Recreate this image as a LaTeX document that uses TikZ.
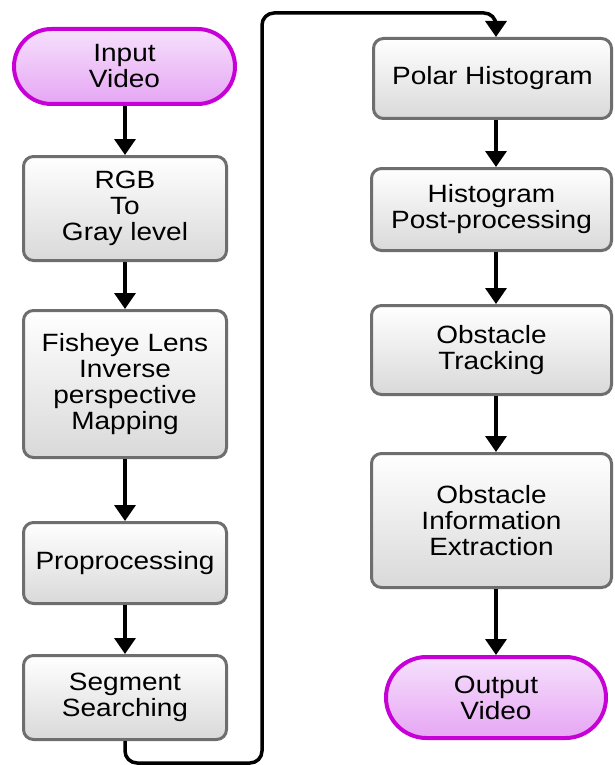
\documentclass[tikz,border=0pt]{standalone}
\usepackage{fontspec}
\setmainfont{Liberation Sans}[FakeStretch=1.12]
\usetikzlibrary{arrows.meta,shapes.misc}
\definecolor{boxgray}{HTML}{6E6E6E}
\definecolor{termmag}{HTML}{C800D8}
\definecolor{termtop}{HTML}{F6E0FC}
\definecolor{termbot}{HTML}{E6A6F4}
\definecolor{boxbot}{HTML}{D9D9D9}
\newcommand\diagfont{\fontsize{25}{26}\selectfont}
\begin{document}
\begin{tikzpicture}[x=1pt,y=-1pt,
 proc/.style={draw=boxgray, line width=3pt, rounded corners=10pt, top color=white, bottom color=boxbot, align=center, font=\diagfont, inner sep=0pt},
 term/.style={rounded rectangle, draw=termmag, line width=4pt, top color=termtop, bottom color=termbot, align=center, font=\diagfont, inner sep=0pt},
 arr/.style={line width=3.5pt, -{Triangle[width=21pt,length=16pt]}}]
\useasboundingbox (0,0) rectangle (614,765);
\fill[white] (0,0) rectangle (614,765);
% left column
\node[term, minimum width=221pt, minimum height=75pt] (in) at (124.5,66.5) {Input\\Video};
\node[proc, minimum width=203pt, minimum height=104pt] (rgb) at (125,208.5) {RGB\\To\\Gray level};
\node[proc, minimum width=203pt, minimum height=147pt] (fish) at (125,384) {Fisheye Lens\\Inverse\\perspective\\Mapping};
\node[proc, minimum width=203pt, minimum height=81pt] (pre) at (125,563) {Proprocessing};
\node[proc, minimum width=203pt, minimum height=84pt] (seg) at (125,697.5) {Segment\\Searching};
% right column
\node[proc, minimum width=238pt, minimum height=80pt] (pol) at (492.5,78.5) {Polar Histogram};
\node[proc, minimum width=240pt, minimum height=82pt] (post) at (491.5,209.5) {Histogram\\Post-processing};
\node[proc, minimum width=240pt, minimum height=89pt] (trk) at (491.5,350) {Obstacle\\Tracking};
\node[proc, minimum width=240pt, minimum height=134pt] (ext) at (491.5,520.5) {Obstacle\\Information\\Extraction};
\node[term, minimum width=220pt, minimum height=81pt] (out) at (496,697.5) {Output\\Video};
% arrows left
\draw[arr] (in.south -| rgb.north) -- (rgb.north);
\draw[arr] (rgb) -- (fish);
\draw[arr] (fish) -- (pre);
\draw[arr] (pre) -- (seg);
% arrows right
\draw[arr] (pol.south -| out.center) -- (post.north -| out.center);
\draw[arr] (post.south -| out.center) -- (trk.north -| out.center);
\draw[arr] (trk.south -| out.center) -- (ext.north -| out.center);
\draw[arr] (ext.south -| out.center) -- (out.north);
% long connector
\coordinate (c1) at (125,763);
\coordinate (c2) at (262,763);
\coordinate (c3) at (262,13);
\coordinate (c4) at (496,13);
\draw[arr, rounded corners=12pt] (seg.south) -- (c1) -- (c2) -- (c3) -- (c4) -- (pol.north -| out.center);
\end{tikzpicture}
\end{document}
